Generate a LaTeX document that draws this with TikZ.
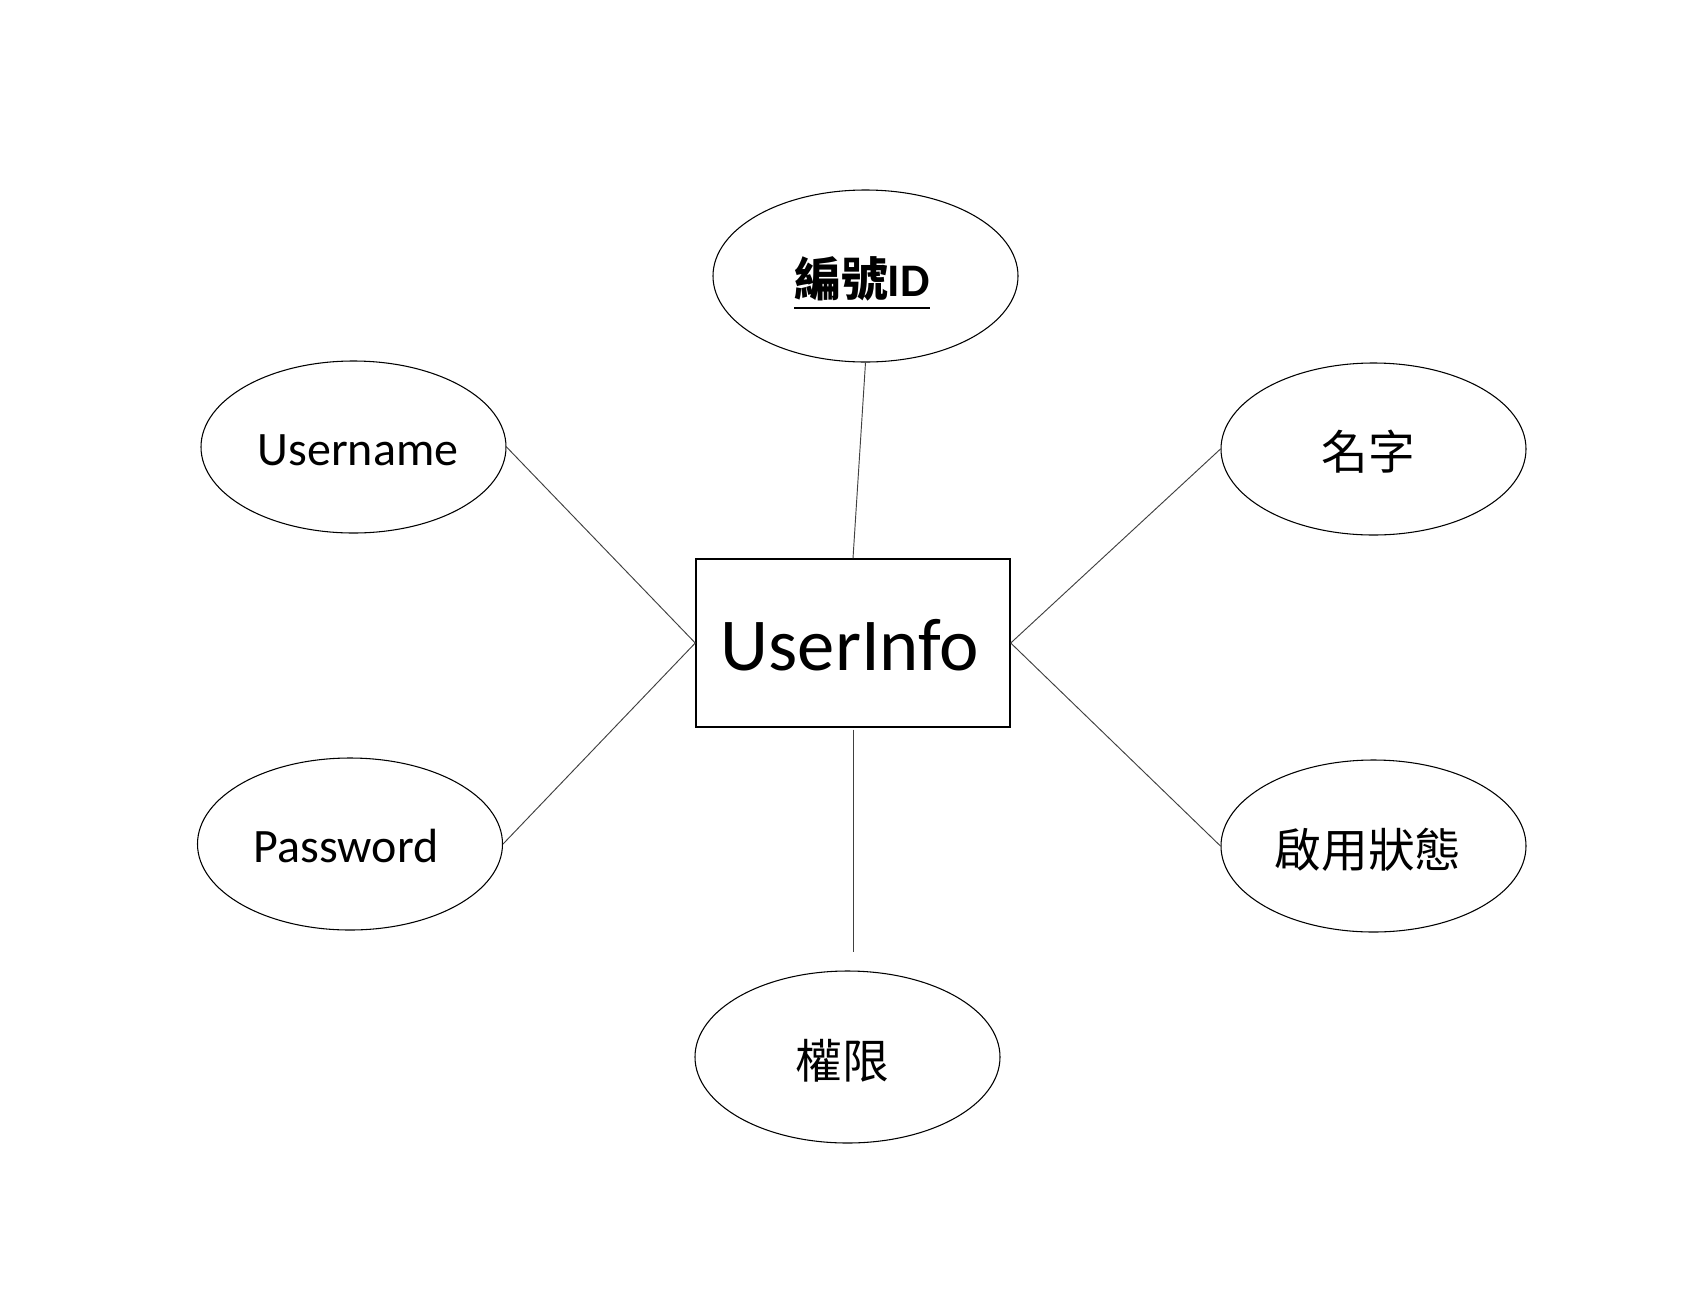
\documentclass[tikz,border=0pt]{standalone}
\usepackage{fontspec}
\setmainfont{Carlito}
\newfontfamily\cjk{Noto Sans CJK TC}
\usetikzlibrary{shapes.geometric}
\begin{document}
\begin{tikzpicture}[x=0.75pt,y=-0.75pt,
  attr/.style={draw=black,line width=0.8pt,ellipse,minimum width=228.75pt,minimum height=129pt,inner sep=0pt},
  entity/.style={draw=black,line width=1.1pt,rectangle,minimum width=235.5pt,minimum height=126pt,inner sep=0pt},
  lbl/.style={inner sep=0pt,outer sep=0pt,font=\fontsize{36pt}{40pt}\selectfont},
  cjklbl/.style={inner sep=0pt,outer sep=0pt,font=\cjk\fontsize{35pt}{40pt}\selectfont},
  conn/.style={draw=black!75,line width=0.7pt},
  uline/.style={draw=black,line width=1.3pt}]
\useasboundingbox[fill=white] (0,0) rectangle (1696,1300);
% entity
\node[entity] (box) at (853,643) {};
\node[lbl,anchor=base,font=\fontsize{56pt}{60pt}\selectfont] (boxt) at (850,670) {UserInfo};
% attributes
\node[attr] (id) at (865.5,276) {};
\node[attr] (user) at (353.5,447) {};
\node[attr] (pass) at (350,844) {};
\node[attr] (name) at (1373.5,449) {};
\node[attr] (enable) at (1373.5,846) {};
\node[attr] (perm) at (847.5,1057) {};
% labels
\node[lbl,anchor=base,font=\bfseries\fontsize{35pt}{40pt}\selectfont] (idt) at (862,296) {{\cjk 編號}ID};
\draw[uline] ([yshift=-9pt]idt.base west) -- ([yshift=-9pt]idt.base east);
\node[lbl,anchor=base] (usert) at (358,465) {Username};
\node[lbl,anchor=base] (passt) at (346,862) {Password};
\node[cjklbl] (namet) at (1368,452) {名字};
\node[cjklbl] (enablet) at (1368,849.5) {啟用狀態};
\node[cjklbl] (permt) at (842.5,1060.5) {權限};
% connectors
\draw[conn] (id.south) -- (box.north);
\draw[conn] (user.east) -- (box.west);
\draw[conn] (pass.east) -- (box.west);
\draw[conn] (box.east) -- (name.west);
\draw[conn] (box.east) -- (enable.west);
\draw[conn,shorten <=1.5pt,shorten >=13.5pt] (box.south) -- (box.south |- perm.north);
\end{tikzpicture}
\end{document}
